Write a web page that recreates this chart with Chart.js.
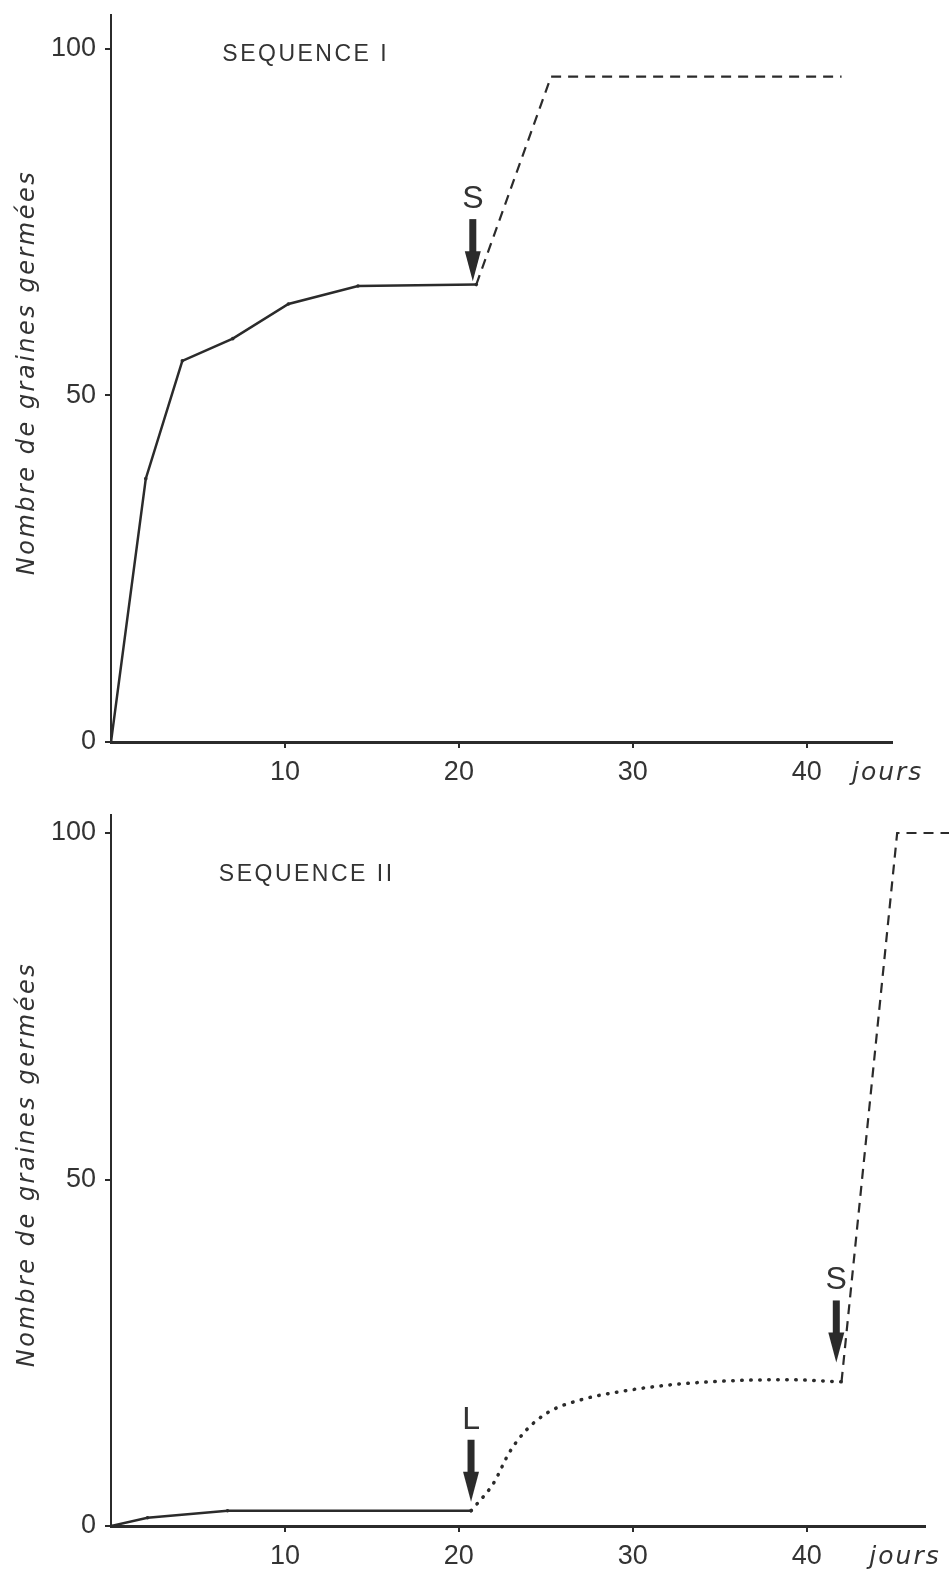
<!DOCTYPE html>
<html>
<head>
  <meta charset="UTF-8">
  <title>Sequences de germination</title>
  <script src="https://cdn.jsdelivr.net/npm/chart.js"></script>
  <style>
    body { margin: 0; background: #fff; }
    #wrap { position: relative; width: 949px; height: 1572px; }
    canvas { position: absolute; left: 0; }
  </style>
</head>
<body>
  <div id="wrap">
    <canvas id="seq1" width="949" height="786" style="top:0"></canvas>
    <canvas id="seq2" width="949" height="786" style="top:786px"></canvas>
  </div>

  <script>
    // axes
    const xTicks = [10, 20, 30, 40];
    const yTicks = [0, 50, 100];
    const yTitle = 'Nombre de graines germées';

    // Sequence I
    const seq1Days = [0, 2, 4.1, 7, 10.2, 14.2, 21];
    const seq1Vals = [0, 38, 55, 58.2, 63.2, 65.8, 66];
    const seq1SDays = [21, 25.3, 42];
    const seq1SVals = [66, 96, 96];
    const seq1Arrows = [{ day: 20.8, value: 66.5, label: 'S' }];

    // Sequence II
    const seq2Days = [0, 2.1, 6.7, 20.7];
    const seq2Vals = [0, 1.2, 2.2, 2.2];
    const seq2LDays = [20.7, 22, 22.9, 23.9, 25.2, 27, 29.3, 32.3, 36.1, 39, 42];
    const seq2LVals = [2.2, 6.2, 10.6, 13.9, 16.5, 18.2, 19.4, 20.4, 21, 21.1, 20.8];
    const seq2SDays = [42, 45.2, 48.5];
    const seq2SVals = [20.8, 100, 100];
    const seq2Arrows = [
      { day: 20.7, value: 3.5, label: 'L' },
      { day: 41.7, value: 23.6, label: 'S' }
    ];

    const ink = '#2b2b2b';
    Chart.defaults.font.family = "'Liberation Sans', Arial, sans-serif";
    Chart.defaults.color = '#333';

    const pts = (xs, ys) => xs.map((d, i) => ({ x: d, y: ys[i] }));

    // textes et fleches dessines par dessus
    const annot = {
      id: 'annot',
      afterDatasetsDraw(chart, args, o) {
        const { ctx, chartArea, scales: { x, y } } = chart;
        ctx.save();
        ctx.fillStyle = '#333';

        // titre axe Y
        ctx.save();
        ctx.translate(28, (chartArea.top + chartArea.bottom) / 2 - 6);
        ctx.rotate(-Math.PI / 2);
        ctx.font = "italic 24px 'DejaVu Sans', sans-serif";
        ctx.letterSpacing = '2.5px';
        ctx.textAlign = 'center';
        ctx.textBaseline = 'middle';
        ctx.fillText(yTitle, 0, 0);
        ctx.restore();

        // nom de la sequence
        ctx.font = "23px 'Liberation Sans', sans-serif";
        ctx.letterSpacing = '2.5px';
        ctx.textAlign = 'left';
        ctx.textBaseline = 'middle';
        ctx.fillText(o.panel, x.getPixelForValue(o.panelAt[0]), y.getPixelForValue(o.panelAt[1]));

        // "jours"
        ctx.font = "italic 25px 'DejaVu Sans', sans-serif";
        ctx.letterSpacing = '2px';
        ctx.fillText('jours', x.getPixelForValue(o.joursAt), chartArea.bottom + 31);

        // fleches S / L
        ctx.letterSpacing = '0px';
        o.arrows.forEach(a => {
          const px = x.getPixelForValue(a.day);
          const py = y.getPixelForValue(a.value);
          ctx.fillStyle = ink;
          ctx.fillRect(px - 3.5, py - 62, 7, 34);
          ctx.beginPath();
          ctx.moveTo(px - 8, py - 30);
          ctx.lineTo(px + 8, py - 30);
          ctx.lineTo(px, py);
          ctx.closePath();
          ctx.fill();
          ctx.fillStyle = '#333';
          ctx.font = "32px 'Liberation Sans', sans-serif";
          ctx.textAlign = 'center';
          ctx.fillText(a.label, px, py - 82);
        });
        ctx.restore();
      }
    };

    function makeChart(id, datasets, xMax, yMax, pad, xH, extra) {
      return new Chart(document.getElementById(id), {
        type: 'line',
        data: { datasets },
        plugins: [annot],
        options: {
          responsive: false,
          animation: false,
          devicePixelRatio: 1,
          layout: { padding: pad },
          plugins: { legend: { display: false }, tooltip: { enabled: false }, annot: extra },
          scales: {
            x: {
              type: 'linear', min: 0, max: xMax,
              afterFit: s => { s.height = xH; s.paddingLeft = 0; s.paddingRight = 0; },
              afterBuildTicks: s => { s.ticks = xTicks.map(v => ({ value: v })); },
              grid: { drawOnChartArea: false, drawTicks: true, tickLength: 6, color: ink, lineWidth: 2 },
              border: { color: ink, width: 3 },
              ticks: { font: { size: 27 }, padding: 8, maxRotation: 0, autoSkip: false }
            },
            y: {
              type: 'linear', min: 0, max: yMax,
              afterFit: s => { s.width = 111; s.paddingTop = 0; s.paddingBottom = 0; },
              afterBuildTicks: s => { s.ticks = yTicks.map(v => ({ value: v })); },
              grid: { drawOnChartArea: false, drawTicks: true, tickLength: 6, color: ink, lineWidth: 2 },
              border: { color: ink, width: 2 },
              ticks: { font: { size: 27 }, padding: 9 }
            }
          }
        }
      });
    }

    const solid = (data) => ({ data, borderColor: ink, borderWidth: 2.5, pointRadius: 1.8,
      pointBackgroundColor: ink, pointBorderWidth: 0, tension: 0 });
    const dashed = (data) => ({ data, borderColor: ink, borderWidth: 2.2, borderDash: [10, 7],
      pointRadius: 0, tension: 0, clip: false });
    const dotted = (data) => ({ data, borderColor: ink, borderWidth: 3.5, borderDash: [0.5, 8.5],
      borderCapStyle: 'round', pointRadius: 0, cubicInterpolationMode: 'monotone' });

    makeChart('seq1', [
      solid(pts(seq1Days, seq1Vals)),
      dashed(pts(seq1SDays, seq1SVals))
    ], 44.9, 104.9, { top: 15, right: 57, left: 0, bottom: 0 }, 44,
      { panel: 'SEQUENCE I', panelAt: [6.4, 99.2], arrows: seq1Arrows, joursAt: 42.6 });

    makeChart('seq2', [
      solid(pts(seq2Days, seq2Vals)),
      dotted(pts(seq2LDays, seq2LVals)),
      dashed(pts(seq2SDays, seq2SVals))
    ], 46.8, 102.6, { top: 29, right: 24, left: 0, bottom: 0 }, 46,
      { panel: 'SEQUENCE II', panelAt: [6.2, 94], arrows: seq2Arrows, joursAt: 43.6 });
  </script>
</body>
</html>
